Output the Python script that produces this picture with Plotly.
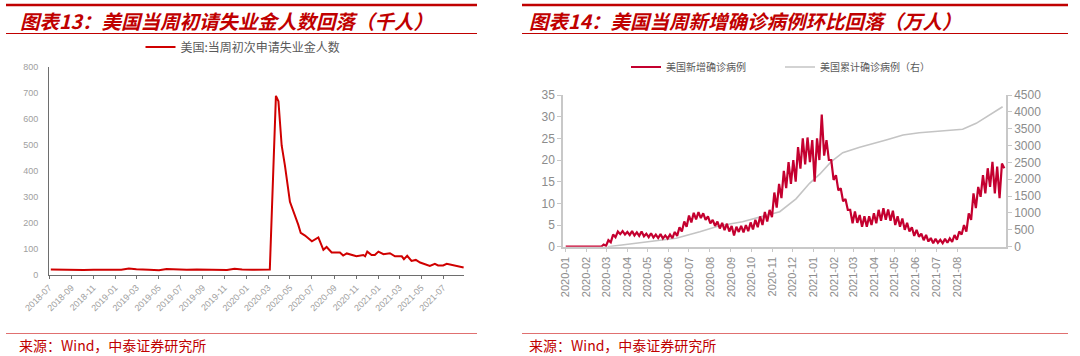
import plotly.graph_objects as go
import pandas as pd

# ---------------- data: left panel (US initial jobless claims) ----------------
claims_dates = [
    "2018-07-06", "2018-08-03", "2018-09-07", "2018-10-05", "2018-11-02", "2018-12-07",
    "2019-01-04", "2019-01-18", "2019-02-08", "2019-03-01", "2019-04-05", "2019-05-03",
    "2019-05-24", "2019-06-21", "2019-07-19", "2019-08-16", "2019-09-13", "2019-10-11",
    "2019-11-08", "2019-11-29", "2019-12-20", "2020-01-17", "2020-02-14", "2020-03-06",
    "2020-03-23", "2020-03-30", "2020-04-08", "2020-04-17", "2020-05-01", "2020-05-10",
    "2020-05-24", "2020-05-31", "2020-06-12", "2020-07-01", "2020-07-10", "2020-07-19",
    "2020-08-02", "2020-08-11", "2020-08-25", "2020-09-17", "2020-09-26", "2020-10-06",
    "2020-11-02", "2020-11-21", "2020-11-26", "2020-12-02", "2020-12-14", "2020-12-23",
    "2021-01-02", "2021-01-16", "2021-02-03", "2021-02-17", "2021-03-08", "2021-03-14",
    "2021-03-23", "2021-04-04", "2021-04-16", "2021-04-28", "2021-05-25", "2021-06-08",
    "2021-06-17", "2021-07-01", "2021-07-11", "2021-07-29", "2021-08-27",
]
claims_values = [
    21, 20, 20, 19, 20, 21,
    22, 20, 25, 22, 20, 18,
    23, 21, 20, 21, 20, 20,
    19, 24, 21, 20, 20, 21,
    690, 669, 499, 422, 282, 249,
    194, 162, 152, 130, 139, 145,
    97, 108, 87, 87, 75, 83,
    72, 77, 72, 90, 77, 77,
    90, 80, 84, 72, 72, 61,
    74, 54, 58, 48, 35, 43,
    37, 37, 43, 37, 29,
]
claims_tick_labels = [
    "2018-07", "2018-09", "2018-11", "2019-01", "2019-03", "2019-05", "2019-07",
    "2019-09", "2019-11", "2020-01", "2020-03", "2020-05", "2020-07", "2020-09",
    "2020-11", "2021-01", "2021-03", "2021-05", "2021-07",
]

# ---------------- data: right panel (US COVID cases, 万人) ----------------
# weekly high / low of the daily new-case line (zig-zag), starting 2020-01-01
new_cases_high = [
    0, 0, 0, 0, 0, 0, 0, 0,
    0.5, 1.5, 2.8, 3.5, 3.6, 3.4, 3.6, 3.3, 3.5, 3.0, 3.1, 2.8, 2.9, 2.6, 2.8, 3.4,
    4.5, 5.8, 7.2, 7.8, 8.0, 7.7, 7.0, 6.2, 5.8, 5.5, 5.3, 4.8, 4.6, 4.8, 5.0, 5.6,
    6.2, 7.0, 8.0, 8.5, 12.5, 14.5, 17.5, 19.5, 20.0, 23.0, 25.0, 25.2, 24.6, 25.0,
    30.5, 24.6, 20.0, 16.5, 13.5, 11.0, 8.5, 8.1, 7.3, 7.0, 7.0, 7.7, 8.5, 8.9, 8.6,
    8.3, 7.0, 6.5, 5.5, 4.5, 3.9, 3.0, 2.7, 2.0, 1.8, 1.6, 1.8, 1.9, 2.7, 3.5, 5.0,
    7.7, 12.3, 13.8, 16.5, 18.1, 19.6, 18.5, 19.2,
]
new_cases_low = [
    0, 0, 0, 0, 0, 0, 0, 0,
    0.2, 1.0, 2.2, 2.9, 2.8, 2.7, 2.6, 2.5, 2.4, 2.2, 2.1, 2.0, 1.9, 1.9, 2.0, 2.5,
    3.5, 4.6, 5.6, 6.3, 6.6, 6.2, 5.4, 4.8, 4.2, 3.8, 3.5, 2.6, 3.4, 3.3, 3.6, 4.0,
    4.5, 5.0, 5.8, 6.8, 9.0, 11.2, 13.5, 14.5, 15.0, 18.0, 19.0, 19.5, 15.0, 20.0,
    21.0, 20.0, 15.4, 13.0, 10.5, 8.5, 5.4, 5.5, 4.6, 4.6, 5.0, 5.4, 6.0, 6.2, 6.0,
    5.0, 4.6, 3.9, 3.5, 2.5, 2.3, 1.5, 1.2, 0.8, 0.9, 0.8, 0.9, 1.1, 1.6, 2.8, 3.5,
    6.2, 8.9, 11.5, 12.3, 13.8, 12.3, 11.2, 18.1,
]
cum_dates = [
    "2020-03-03", "2020-04-04", "2020-05-09", "2020-06-12", "2020-07-17", "2020-08-15",
    "2020-09-18", "2020-10-23", "2020-11-12", "2020-12-06", "2020-12-26", "2021-01-10",
    "2021-01-27", "2021-02-13", "2021-03-10", "2021-04-18", "2021-05-13", "2021-06-06",
    "2021-07-11", "2021-08-09", "2021-08-29", "2021-09-18", "2021-10-07",
]
cum_values = [
    0, 80, 178, 249, 445, 623,
    742, 940, 1038, 1420, 1880, 2150,
    2521, 2788, 2950, 3165, 3313, 3381,
    3440, 3482, 3660, 3906, 4152,
]
case_tick_labels = [
    "2020-01", "2020-02", "2020-03", "2020-04", "2020-05", "2020-06", "2020-07",
    "2020-08", "2020-09", "2020-10", "2020-11", "2020-12", "2021-01", "2021-02",
    "2021-03", "2021-04", "2021-05", "2021-06", "2021-07", "2021-08",
]

# interleave weekly highs / lows into a half-week series
case_values = []
for hi, lo in zip(new_cases_high, new_cases_low):
    case_values += [hi, lo]
case_dates = pd.date_range("2020-01-01", periods=len(case_values), freq="84h")

# ---------------- layout helpers ----------------
W, H = 1080, 356


def fx(p):
    return p / W


def fy(p):
    return 1 - p / H


RED_T = "#C00000"
CJK = "Noto Sans CJK SC"

fig = go.Figure()

fig.add_trace(go.Scatter(
    x=claims_dates, y=claims_values, mode="lines", name="美国:当周初次申请失业金人数",
    line=dict(color="#D00000", width=2), xaxis="x", yaxis="y", legend="legend",
))
fig.add_trace(go.Scatter(
    x=cum_dates, y=cum_values, mode="lines", name="美国累计确诊病例（右）",
    line=dict(color="#C4C4C4", width=1.6), xaxis="x2", yaxis="y2", legend="legend2",
    legendrank=2,
))
fig.add_trace(go.Scatter(
    x=case_dates, y=case_values, mode="lines", name="美国新增确诊病例",
    line=dict(color="#C4002F", width=2.2), xaxis="x2", yaxis="y3", legend="legend2",
    legendrank=1,
))

left_tickvals = [t + "-01" for t in claims_tick_labels]
right_tickvals = [t + "-01" for t in case_tick_labels]

fig.update_layout(
    width=W, height=H,
    margin=dict(l=0, r=0, t=0, b=0, autoexpand=False),
    paper_bgcolor="white", plot_bgcolor="white",
    font=dict(family="Liberation Sans, Arial", color="#808080"),
    xaxis=dict(
        domain=[fx(49), fx(464)], anchor="y", type="date", automargin=False,
        range=["2018-07-01", "2021-08-28"],
        tickvals=left_tickvals, ticktext=claims_tick_labels, tickangle=-45,
        showline=True, linecolor="#6E6E6E", linewidth=1,
        ticks="outside", ticklen=3, tickcolor="#6E6E6E",
        showgrid=False, zeroline=False,
        tickfont=dict(size=9, color="#A0A0A0"),
    ),
    yaxis=dict(
        domain=[fy(275), fy(67.3)], anchor="x", range=[0, 800], dtick=100, automargin=False,
        showline=True, linecolor="#6E6E6E", linewidth=1, ticks="",
        showgrid=False, zeroline=False, ticklabelstandoff=8,
        tickfont=dict(size=9, color="#A0A0A0"),
    ),
    xaxis2=dict(
        domain=[fx(563), fx(1006)], anchor="y2", type="date", automargin=False,
        range=["2019-12-28", "2021-10-12"],
        tickvals=right_tickvals, ticktext=case_tick_labels, tickangle=-90,
        showline=True, linecolor="#C8C8C8", linewidth=1.5,
        ticks="outside", ticklen=4, tickcolor="#C8C8C8",
        showgrid=False, zeroline=False,
        tickfont=dict(size=11, color="#8C8C8C"),
    ),
    yaxis2=dict(
        domain=[fy(246.7), fy(95)], anchor="x2", side="right", range=[0, 4500], dtick=500,
        automargin=False,
        showline=True, linecolor="#C8C8C8", linewidth=1.5,
        ticks="outside", ticklen=4, tickcolor="#C8C8C8",
        showgrid=False, zeroline=False,
        tickfont=dict(size=12, color="#8C8C8C"),
    ),
    yaxis3=dict(
        overlaying="y2", anchor="x2", side="left", range=[0, 35], dtick=5, automargin=False,
        showline=True, linecolor="#C8C8C8", linewidth=1.5,
        ticks="outside", ticklen=4, tickcolor="#C8C8C8",
        showgrid=False, zeroline=False,
        tickfont=dict(size=12, color="#8C8C8C"),
    ),
    legend=dict(
        orientation="h", x=fx(243), xanchor="center", y=fy(47), yanchor="middle",
        font=dict(family=CJK, size=12, color="#595959"), bgcolor="rgba(0,0,0,0)",
    ),
    legend2=dict(
        orientation="h", x=fx(626), xanchor="left", y=fy(67), yanchor="middle",
        font=dict(family=CJK, size=10, color="#595959"), bgcolor="rgba(0,0,0,0)",
        entrywidth=109, entrywidthmode="pixels", traceorder="normal",
    ),
    showlegend=True,
)

# titles and sources
annotations = [
    dict(text="图表13：美国当周初请失业金人数回落（千人）", x=fx(18), y=fy(20)),
    dict(text="图表14：美国当周新增确诊病例环比回落（万人）", x=fx(527), y=fy(20)),
]
for a in annotations:
    a.update(xref="paper", yref="paper", xanchor="left", yanchor="middle", showarrow=False,
             font=dict(family=CJK, size=19.5, color=RED_T, style="italic", weight="bold"))
for xs in (17, 527):
    annotations.append(dict(
        text="来源：Wind，中泰证券研究所", x=fx(xs), y=fy(345), xref="paper", yref="paper",
        xanchor="left", yanchor="middle", showarrow=False,
        font=dict(family=CJK, size=14, color=RED_T),
    ))
fig.update_layout(annotations=annotations)

shapes = []
for x0, x1 in ((6, 477), (522, 1068)):
    shapes.append(dict(type="line", xref="paper", yref="paper", x0=fx(x0), x1=fx(x1),
                       y0=fy(5), y1=fy(5), line=dict(color=RED_T, width=2.5)))
    shapes.append(dict(type="line", xref="paper", yref="paper", x0=fx(x0), x1=fx(x1),
                       y0=fy(33.5), y1=fy(33.5), line=dict(color=RED_T, width=1)))
    shapes.append(dict(type="line", xref="paper", yref="paper", x0=fx(x0), x1=fx(x1),
                       y0=fy(333.5), y1=fy(333.5), line=dict(color="#E07070", width=1)))
fig.update_layout(shapes=shapes)

fig.write_html(
    "out.html",
    config={"displayModeBar": False},
    post_script="document.body.style.margin='0';document.body.style.overflow='hidden';",
)
